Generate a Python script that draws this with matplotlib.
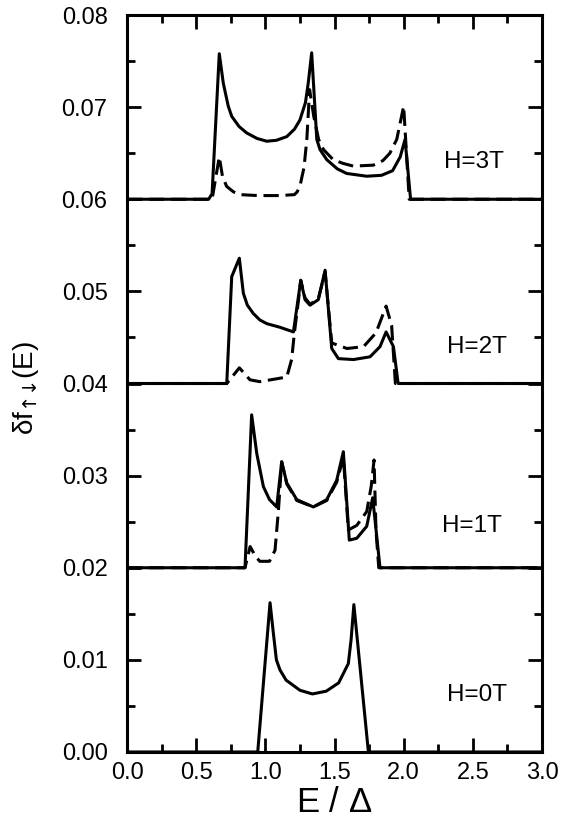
import matplotlib
matplotlib.use("Agg")
import matplotlib.pyplot as plt
from matplotlib.ticker import MultipleLocator, FormatStrFormatter

plt.rcParams['font.family'] = ['Liberation Sans', 'DejaVu Sans']
plt.rcParams['mathtext.fontset'] = 'custom'
plt.rcParams['mathtext.rm'] = 'Liberation Sans'
plt.rcParams['mathtext.it'] = 'Liberation Sans'
plt.rcParams['mathtext.bf'] = 'Liberation Sans:bold'
plt.rcParams['mathtext.sf'] = 'DejaVu Sans'

# --- data (E / Delta, delta f) ---
# H = 3T
e3_solid = [0.0, 0.59, 0.615, 0.667, 0.696, 0.732, 0.757, 0.81, 0.865, 0.94, 1.01, 1.08,
            1.155, 1.21, 1.25, 1.29, 1.31, 1.335, 1.372, 1.395, 1.444, 1.52, 1.588, 1.733,
            1.84, 1.92, 1.975, 2.01, 2.05, 3.0]
f3_solid = [0.0600, 0.0600, 0.0606, 0.0758, 0.0726, 0.0701, 0.0690, 0.0679, 0.0672, 0.0666,
            0.0663, 0.0664, 0.0668, 0.0676, 0.0686, 0.0705, 0.0726, 0.0759, 0.0665, 0.0654,
            0.0643, 0.0633, 0.0628, 0.0625, 0.0626, 0.0631, 0.0646, 0.0665, 0.0600, 0.0600]
e3_dash = [0.0, 0.615, 0.667, 0.69, 0.72, 0.77, 0.817, 0.95, 1.1, 1.21, 1.23, 1.25, 1.28,
           1.30, 1.32, 1.35, 1.385, 1.42, 1.49, 1.56, 1.636, 1.78, 1.85, 1.90, 1.95, 2.0,
           2.04, 3.0]
f3_dash = [0.0600, 0.0600, 0.0646, 0.0625, 0.0614, 0.0608, 0.0605, 0.0604, 0.0604, 0.0605,
           0.0608, 0.0614, 0.0635, 0.0665, 0.0719, 0.0690, 0.0665, 0.0654, 0.0643, 0.0639,
           0.0636, 0.0637, 0.0642, 0.0650, 0.0665, 0.0701, 0.0600, 0.0600]

# H = 2T
e2_solid = [0.0, 0.721, 0.757, 0.812, 0.841, 0.87, 0.913, 0.96, 1.01, 1.106, 1.203, 1.256,
            1.287, 1.323, 1.383, 1.432, 1.48, 1.528, 1.637, 1.757, 1.829, 1.873, 1.926,
            1.96, 3.0]
f2_solid = [0.0400, 0.0400, 0.0516, 0.0536, 0.0498, 0.0485, 0.0476, 0.0469, 0.0465, 0.0461,
            0.0456, 0.0512, 0.0491, 0.0485, 0.0491, 0.0523, 0.0438, 0.0427, 0.0426, 0.0429,
            0.0440, 0.0456, 0.0440, 0.0400, 0.0400]
e2_dash = [0.0, 0.721, 0.812, 0.889, 0.96, 1.155, 1.19, 1.21, 1.24, 1.256, 1.287, 1.323,
           1.383, 1.432, 1.48, 1.59, 1.71, 1.80, 1.873, 1.913, 1.94, 3.0]
f2_dash = [0.0400, 0.0400, 0.0417, 0.0404, 0.0402, 0.0407, 0.0426, 0.0455, 0.0491, 0.0512,
           0.0493, 0.0486, 0.0492, 0.0521, 0.0444, 0.0438, 0.0440, 0.0455, 0.0484, 0.0463,
           0.0400, 0.0400]

# H = 1T
e1_solid = [0.0, 0.853, 0.901, 0.938, 0.986, 1.03, 1.082, 1.118, 1.155, 1.227, 1.347, 1.444,
            1.516, 1.564, 1.607, 1.661, 1.733, 1.776, 1.829, 3.0]
f1_solid = [0.0200, 0.0200, 0.0366, 0.0324, 0.0288, 0.0274, 0.0266, 0.0315, 0.0292, 0.0274,
            0.0266, 0.0274, 0.0295, 0.0326, 0.0230, 0.0232, 0.0245, 0.0276, 0.0200, 0.0200]
e1_dash = [0.0, 0.853, 0.89, 0.93, 0.96, 1.03, 1.07, 1.095, 1.118, 1.155, 1.227, 1.347,
           1.444, 1.516, 1.564, 1.60, 1.661, 1.733, 1.765, 1.786, 1.80, 1.82, 3.0]
f1_dash = [0.0200, 0.0200, 0.0223, 0.0212, 0.0207, 0.0207, 0.0219, 0.0263, 0.0315, 0.0291,
           0.0273, 0.0266, 0.0273, 0.0293, 0.0320, 0.0241, 0.0246, 0.0261, 0.0288, 0.0317,
           0.0240, 0.0200, 0.0200]

# H = 0T
e0_solid = [0.0, 0.945, 1.034, 1.058, 1.08, 1.106, 1.15, 1.25, 1.34, 1.44, 1.53, 1.60, 1.62,
            1.64, 1.745, 3.0]
f0_solid = [0.0, 0.0, 0.0162, 0.0129, 0.0100, 0.0089, 0.0078, 0.0067, 0.0063, 0.0066,
            0.0075, 0.0096, 0.0122, 0.0160, 0.0, 0.0]

labels = ["H=3T", "H=2T", "H=1T", "H=0T"]
label_x = [2.29, 2.31, 2.28, 2.31]
label_y = [0.0640, 0.0440, 0.0245, 0.0062]

fig = plt.figure(figsize=(5.62, 8.25), dpi=100)
ax = fig.add_axes([0.226, 0.0885, 0.7384, 0.8933])

lw = 2.2
dash = (5, 2.2)
ax.plot(e3_solid, f3_solid, color='black', lw=lw)
ax.plot(e3_dash, f3_dash, color='black', lw=lw, dashes=dash)
ax.plot(e2_solid, f2_solid, color='black', lw=lw)
ax.plot(e2_dash, f2_dash, color='black', lw=lw, dashes=dash)
ax.plot(e1_solid, f1_solid, color='black', lw=lw)
ax.plot(e1_dash, f1_dash, color='black', lw=lw, dashes=dash)
ax.plot(e0_solid, f0_solid, color='black', lw=lw)

for t, x, y in zip(labels, label_x, label_y):
    ax.text(x, y, t, fontsize=17.5, ha='left', va='center')

ax.set_xlim(0, 3.0)
ax.set_ylim(0, 0.08)
ax.xaxis.set_major_locator(MultipleLocator(0.5))
ax.xaxis.set_minor_locator(MultipleLocator(0.25))
ax.yaxis.set_major_locator(MultipleLocator(0.01))
ax.yaxis.set_minor_locator(MultipleLocator(0.005))
ax.xaxis.set_major_formatter(FormatStrFormatter('%.1f'))
ax.yaxis.set_major_formatter(FormatStrFormatter('%.2f'))

ax.tick_params(which='both', direction='in', top=True, right=True, width=2)
ax.tick_params(which='major', length=10, labelsize=17)
ax.tick_params(axis='x', which='major', pad=7)
ax.tick_params(axis='y', which='major', pad=14)
ax.tick_params(which='minor', length=6)
for s in ax.spines.values():
    s.set_linewidth(2.2)

ax.set_xlabel(r'E / $\Delta$', fontsize=25, labelpad=2)
fig.text(26 / 562, 1 - 388 / 825, r'$\delta f_{\mathsf{↑↓}}(E)$', fontsize=20,
         rotation=90, ha='center', va='center')

fig.savefig('out.png', dpi=100)
